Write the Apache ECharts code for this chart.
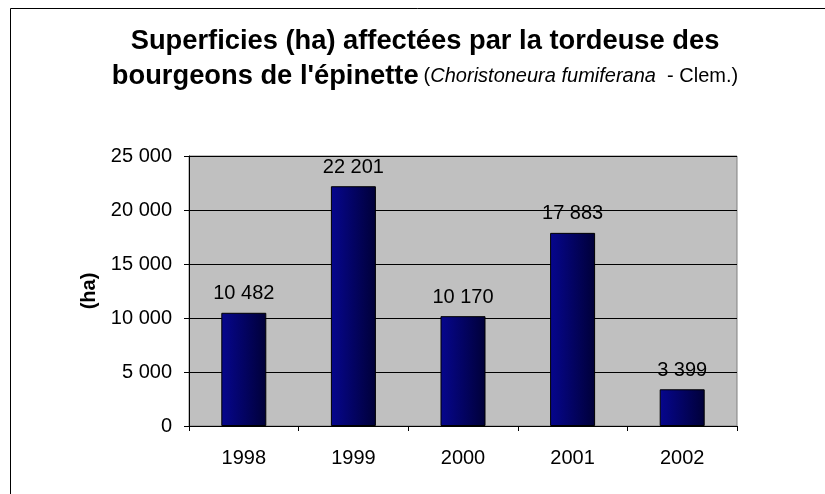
<!DOCTYPE html>
<html lang="fr">
<head>
    <meta charset="UTF-8">
    <title>Tordeuse des bourgeons de l'épinette</title>
    <style>
        html, body { margin: 0; padding: 0; background: #fff; }
    </style>
</head>
<body>

<div id="main" style="width: 825px;height:494px;"></div>

<script src="https://cdn.jsdelivr.net/npm/echarts@6/dist/echarts.min.js" charset="utf-8"></script>

<script type="text/javascript">
    var annees = ['1998', '1999', '2000', '2001', '2002'];
    var superficies = [10482, 22201, 10170, 17883, 3399];
    var yMax = 25000;
    var yPas = 5000;

    var police = '"Liberation Sans", Arial, sans-serif';

    // 10482 -> "10 482"
    function espace(v) {
        return String(v).replace(/\B(?=(\d{3})+(?!\d))/g, ' ');
    }

    var myChart = echarts.init(document.getElementById('main'));

    var option = {
        backgroundColor: '#ffffff',
        animation: false,
        title: {
            text: '{a|Superficies (ha) affectées par la tordeuse des}\n' +
                '{a|bourgeons de l\'épinette} {n|(}{i|Choristoneura fumiferana}{n|  - Clem.)}',
            left: 425,
            top: 24,
            padding: 0,
            textAlign: 'center',
            textStyle: {
                fontFamily: police,
                fontWeight: 'normal',
                lineHeight: 35,
                rich: {
                    a: {fontSize: 27.3, fontWeight: 'bold', color: '#000', fontFamily: police, lineHeight: 35},
                    n: {fontSize: 20, fontWeight: 'normal', color: '#000', fontFamily: police, lineHeight: 35},
                    i: {fontSize: 20, fontWeight: 'normal', fontStyle: 'italic', color: '#000', fontFamily: police, lineHeight: 35}
                }
            }
        },
        // cadre du graphique (seuls les bords haut et gauche sont visibles)
        graphic: [{
            type: 'polyline',
            shape: {points: [[10.5, 494], [10.5, 8.5], [825, 8.5]]},
            style: {stroke: '#000', lineWidth: 1, fill: null}
        }],
        grid: {
            left: 189,
            right: 88,
            top: 156,
            bottom: 68,
            show: true,
            backgroundColor: '#c0c0c0',
            borderColor: '#808080',
            borderWidth: 1
        },
        xAxis: {
            type: 'category',
            data: annees,
            axisLine: {lineStyle: {color: '#000', width: 1}},
            axisTick: {show: true, length: 5, lineStyle: {color: '#000'}},
            axisLabel: {
                margin: 22,
                fontSize: 20,
                color: '#000',
                fontFamily: police
            }
        },
        yAxis: {
            type: 'value',
            min: 0,
            max: yMax,
            interval: yPas,
            name: '(ha)',
            nameLocation: 'middle',
            nameGap: 88,
            nameRotate: 90,
            nameTextStyle: {
                fontSize: 20,
                fontWeight: 'bold',
                color: '#000',
                fontFamily: police
            },
            axisLine: {show: true, lineStyle: {color: '#000', width: 1}},
            axisTick: {show: true, length: 5, lineStyle: {color: '#000'}},
            splitLine: {lineStyle: {color: '#000', width: 1}},
            axisLabel: {
                margin: 17,
                fontSize: 20,
                color: '#000',
                fontFamily: police,
                formatter: function (v) { return espace(v); }
            }
        },
        series: [{
            name: 'Superficie',
            type: 'bar',
            data: superficies,
            barWidth: 45,
            itemStyle: {
                color: new echarts.graphic.LinearGradient(0, 0, 1, 0, [
                    {offset: 0, color: '#06068e'},
                    {offset: 1, color: '#000038'}
                ]),
                borderColor: '#000',
                borderWidth: 1
            },
            label: {
                show: true,
                position: 'top',
                distance: 9,
                fontSize: 20,
                color: '#000',
                fontFamily: police,
                formatter: function (p) { return espace(p.value); }
            }
        }]
    };

    myChart.setOption(option);
</script>
</body>
</html>
